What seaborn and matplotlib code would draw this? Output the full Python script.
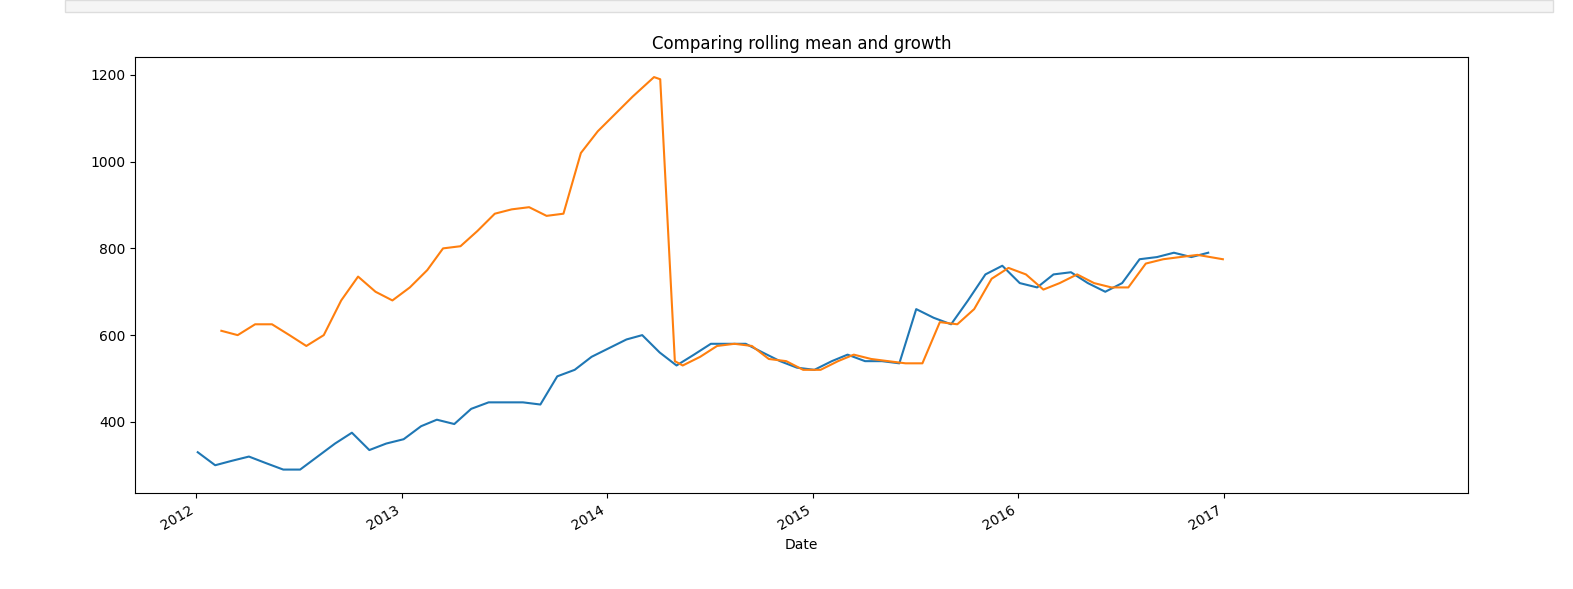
import pandas as pd
import matplotlib
matplotlib.use("Agg")
import matplotlib.pyplot as plt
import seaborn as sns

# approximate monthly closing prices
close_dates = pd.date_range("2012-01-01", periods=60, freq="MS") + pd.Timedelta(days=3)
close_values = [330, 300, 310, 320, 305, 290, 290, 320, 350, 375, 335, 350,
                360, 390, 405, 395, 430, 445, 445, 445, 440, 505, 520, 550,
                570, 590, 600, 560, 530, 555, 580, 580, 580, 560, 540, 525,
                520, 540, 555, 540, 540, 535, 660, 640, 625, 680, 740, 760,
                720, 710, 740, 745, 720, 700, 720, 775, 780, 790, 780, 790]

# 30-day rolling mean of the unadjusted close
roll_dates = pd.to_datetime(
    ["2012-02-15", "2012-03-15", "2012-04-15", "2012-05-15", "2012-06-15",
     "2012-07-15", "2012-08-15", "2012-09-15", "2012-10-15", "2012-11-15",
     "2012-12-15", "2013-01-15", "2013-02-15", "2013-03-15", "2013-04-15",
     "2013-05-15", "2013-06-15", "2013-07-15", "2013-08-15", "2013-09-15",
     "2013-10-15", "2013-11-15", "2013-12-15", "2014-01-15", "2014-02-15",
     "2014-03-25", "2014-04-05", "2014-05-01", "2014-05-15", "2014-06-15",
     "2014-07-15", "2014-08-15", "2014-09-15", "2014-10-15", "2014-11-15",
     "2014-12-15", "2015-01-15", "2015-02-15", "2015-03-15", "2015-04-15",
     "2015-05-15", "2015-06-15", "2015-07-15", "2015-08-15", "2015-09-15",
     "2015-10-15", "2015-11-15", "2015-12-15", "2016-01-15", "2016-02-15",
     "2016-03-15", "2016-04-15", "2016-05-15", "2016-06-15", "2016-07-15",
     "2016-08-15", "2016-09-15", "2016-10-15", "2016-11-15", "2016-12-30"])
roll_values = [610, 600, 625, 625, 600, 575, 600, 680, 735, 700,
               680, 710, 750, 800, 805, 840, 880, 890, 895, 875,
               880, 1020, 1070, 1110, 1150, 1195, 1190, 540, 530, 550,
               575, 580, 575, 545, 540, 520, 520, 540, 555, 545,
               540, 535, 535, 630, 625, 660, 730, 755, 740, 705,
               720, 740, 720, 710, 710, 765, 775, 780, 785, 775]

close = pd.DataFrame({"Date": close_dates, "value": close_values})
roll = pd.DataFrame({"Date": roll_dates, "value": roll_values})

fig = plt.figure(figsize=(15.73, 5.89), dpi=100)
fig.patches.append(plt.Rectangle((65 / 1573, 1 - 12 / 589), 1488 / 1573, 12 / 589,
                                 transform=fig.transFigure, facecolor="#f5f5f5",
                                 edgecolor="#dddddd", lw=1))
ax = fig.add_axes([0.086, 0.163, 0.847, 0.74])

sns.lineplot(data=close, x="Date", y="value", ax=ax, color="#1f77b4")
sns.lineplot(data=roll, x="Date", y="value", ax=ax, color="#ff7f0e")

ax.set_xlim(pd.Timestamp("2011-09-15"), pd.Timestamp("2018-03-10"))
ax.set_ylim(236, 1241)
ax.set_xticks(pd.to_datetime(["2012-01-01", "2013-01-01", "2014-01-01",
                              "2015-01-01", "2016-01-01", "2017-01-01"]))
ax.set_xticklabels(["2012", "2013", "2014", "2015", "2016", "2017"],
                   rotation=30, ha="right")
ax.set_ylabel("")
ax.set_xlabel("Date")
ax.set_title("Comparing rolling mean and growth")

fig.savefig("out.png", dpi=100)
